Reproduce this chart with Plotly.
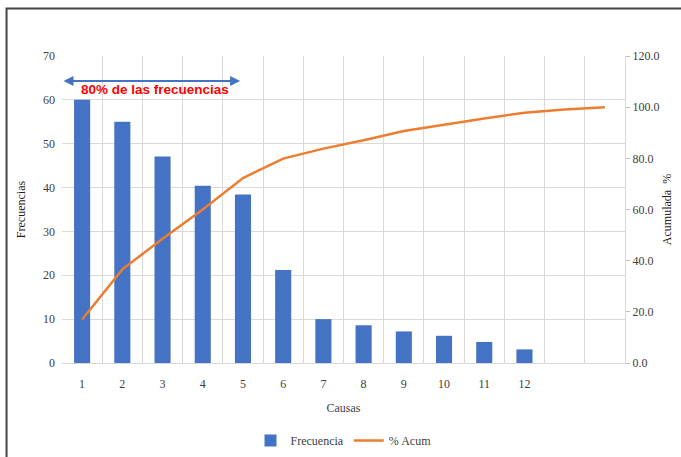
import plotly.graph_objects as go

# ---- data ----
causas = list(range(1, 15))
tick_labels = ["1", "2", "3", "4", "5", "6", "7", "8", "9", "10", "11", "12"]
frecuencia = [60, 55, 47.1, 40.4, 38.4, 21.2, 10.0, 8.6, 7.2, 6.2, 4.8, 3.1, None, None]
pct_acum = [17.0, 36.6, 48.6, 60.0, 72.3, 79.9, 83.8, 87.1, 90.7, 93.2, 95.6, 97.8, 99.1, 100.0]
arrow_span = [0.5, 4.93]
arrow_y = 64.3
label_y = 62.3
label_text = "80% de las frecuencias"

BLUE = "#4472C4"
ORANGE = "#ED7D31"
GRID = "#d9d9d9"
TXT = "#404040"
SERIF = "Liberation Serif, Times New Roman, serif"

fig = go.Figure()
fig.add_trace(go.Bar(x=causas, y=frecuencia, name="Frecuencia",
                     marker=dict(color=BLUE, line=dict(width=0)), yaxis="y"))
fig.add_trace(go.Scatter(x=causas, y=pct_acum, name="% Acum", mode="lines",
                         line=dict(color=ORANGE, width=2.5), yaxis="y2"))

fig.update_layout(
    width=681, height=457,
    margin=dict(l=61.5, r=56, t=55.7, b=94.3, autoexpand=False),
    paper_bgcolor="white", plot_bgcolor="white",
    bargap=0.6,
    showlegend=True,
    legend=dict(orientation="h", x=0.5, xanchor="center", y=-0.205, yanchor="top",
                font=dict(family=SERIF, size=12, color=TXT), itemwidth=30, tracegroupgap=0),
    xaxis=dict(range=[0.5, 14.5], tickmode="array", tickvals=causas[:12], ticktext=tick_labels,
               automargin=False,
               showgrid=False, zeroline=False, showline=True, linecolor=GRID, linewidth=1,
               ticks="", ticklabelstandoff=10,
               tickfont=dict(family=SERIF, size=12, color=TXT),
               minor=dict(tick0=0.5, dtick=1, showgrid=True, gridcolor=GRID, gridwidth=1),
               title=dict(text="Causas", font=dict(family=SERIF, size=12, color=TXT), standoff=13)),
    yaxis=dict(range=[0, 70], dtick=10, showgrid=True, gridcolor=GRID, gridwidth=1,
               automargin=False,
               zeroline=False, showline=False, ticks="",
               tickfont=dict(family=SERIF, size=12, color=TXT), ticklabelstandoff=6,
               title=dict(text="Frecuencias", font=dict(family=SERIF, size=12, color="#222"), standoff=14)),
    yaxis2=dict(range=[0, 120], dtick=20, tickformat=".1f", overlaying="y", side="right",
                automargin=False,
                showgrid=False, zeroline=False, showline=True, linecolor=GRID, linewidth=1,
                ticks="outside", ticklen=4, tickcolor="#bfbfbf",
                tickfont=dict(family=SERIF, size=12, color=TXT),
                title=dict(text="Acumulada  %", font=dict(family=SERIF, size=12, color="#222"), standoff=4)),
)

# double-headed arrow
fig.add_annotation(x=arrow_span[1], y=arrow_y, ax=arrow_span[0], ay=arrow_y,
                   xref="x", yref="y", axref="x", ayref="y", text="",
                   showarrow=True, arrowhead=2, startarrowhead=2, arrowside="end+start",
                   arrowsize=1, startarrowsize=1, arrowwidth=2, arrowcolor=BLUE)
fig.add_annotation(x=sum(arrow_span) / 2 + 0.1, y=label_y, xref="x", yref="y",
                   text="<b>" + label_text + "</b>", showarrow=False,
                   font=dict(family="Liberation Sans Narrow, Arial Narrow, Liberation Sans, Arial", size=13.5, color="#FF0000"))

# outer frame
fig.add_shape(type="rect", xref="paper", yref="paper",
              x0=-0.0985, x1=1.12, y0=-0.36, y1=1.155,
              line=dict(color="#444444", width=2), fillcolor="rgba(0,0,0,0)", layer="above")

fig.write_html("out.html", config={"displayModeBar": False},
               post_script="document.body.style.margin='0';document.body.style.overflow='hidden';")
